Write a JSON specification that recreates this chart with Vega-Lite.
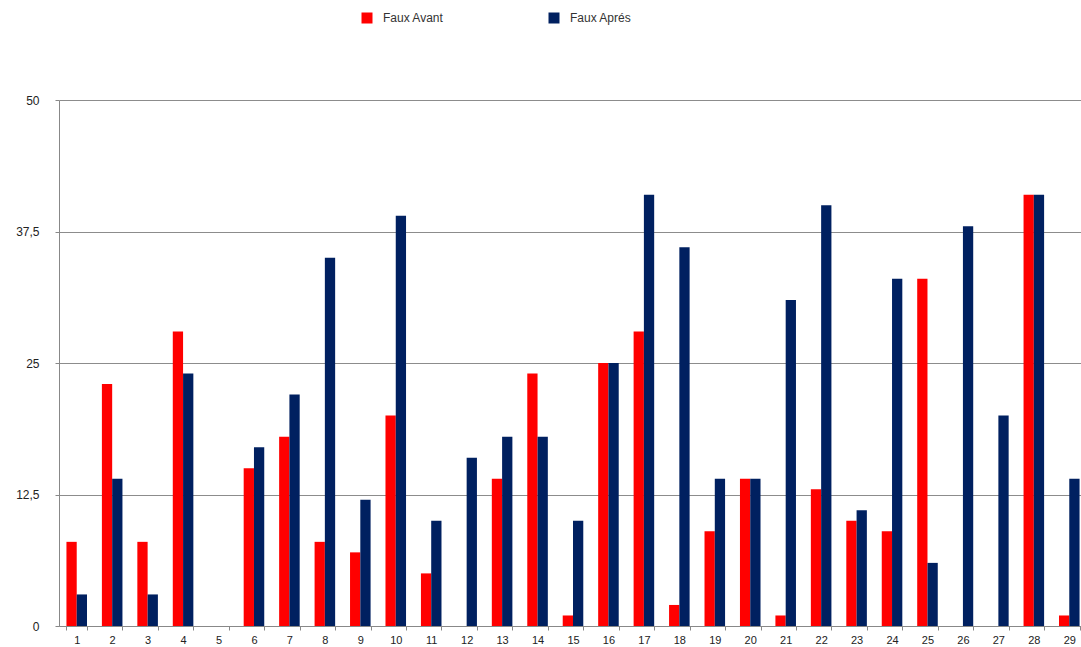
{
  "$schema": "https://vega.github.io/schema/vega-lite/v6.json",
  "width": 1028,
  "height": 526,
  "autosize": {"type": "none"},
  "padding": {"left": 59, "top": 100, "right": -6, "bottom": 21},
  "background": "white",
  "config": {"view": {"stroke": null}, "font": "Liberation Sans"},
  "data": {"values": [
    {"jour": 1, "serie": "Faux Avant", "valeur": 8}, {"jour": 1, "serie": "Faux Aprés", "valeur": 3},
    {"jour": 2, "serie": "Faux Avant", "valeur": 23}, {"jour": 2, "serie": "Faux Aprés", "valeur": 14},
    {"jour": 3, "serie": "Faux Avant", "valeur": 8}, {"jour": 3, "serie": "Faux Aprés", "valeur": 3},
    {"jour": 4, "serie": "Faux Avant", "valeur": 28}, {"jour": 4, "serie": "Faux Aprés", "valeur": 24},
    {"jour": 5, "serie": "Faux Avant", "valeur": 0}, {"jour": 5, "serie": "Faux Aprés", "valeur": 0},
    {"jour": 6, "serie": "Faux Avant", "valeur": 15}, {"jour": 6, "serie": "Faux Aprés", "valeur": 17},
    {"jour": 7, "serie": "Faux Avant", "valeur": 18}, {"jour": 7, "serie": "Faux Aprés", "valeur": 22},
    {"jour": 8, "serie": "Faux Avant", "valeur": 8}, {"jour": 8, "serie": "Faux Aprés", "valeur": 35},
    {"jour": 9, "serie": "Faux Avant", "valeur": 7}, {"jour": 9, "serie": "Faux Aprés", "valeur": 12},
    {"jour": 10, "serie": "Faux Avant", "valeur": 20}, {"jour": 10, "serie": "Faux Aprés", "valeur": 39},
    {"jour": 11, "serie": "Faux Avant", "valeur": 5}, {"jour": 11, "serie": "Faux Aprés", "valeur": 10},
    {"jour": 12, "serie": "Faux Avant", "valeur": 0}, {"jour": 12, "serie": "Faux Aprés", "valeur": 16},
    {"jour": 13, "serie": "Faux Avant", "valeur": 14}, {"jour": 13, "serie": "Faux Aprés", "valeur": 18},
    {"jour": 14, "serie": "Faux Avant", "valeur": 24}, {"jour": 14, "serie": "Faux Aprés", "valeur": 18},
    {"jour": 15, "serie": "Faux Avant", "valeur": 1}, {"jour": 15, "serie": "Faux Aprés", "valeur": 10},
    {"jour": 16, "serie": "Faux Avant", "valeur": 25}, {"jour": 16, "serie": "Faux Aprés", "valeur": 25},
    {"jour": 17, "serie": "Faux Avant", "valeur": 28}, {"jour": 17, "serie": "Faux Aprés", "valeur": 41},
    {"jour": 18, "serie": "Faux Avant", "valeur": 2}, {"jour": 18, "serie": "Faux Aprés", "valeur": 36},
    {"jour": 19, "serie": "Faux Avant", "valeur": 9}, {"jour": 19, "serie": "Faux Aprés", "valeur": 14},
    {"jour": 20, "serie": "Faux Avant", "valeur": 14}, {"jour": 20, "serie": "Faux Aprés", "valeur": 14},
    {"jour": 21, "serie": "Faux Avant", "valeur": 1}, {"jour": 21, "serie": "Faux Aprés", "valeur": 31},
    {"jour": 22, "serie": "Faux Avant", "valeur": 13}, {"jour": 22, "serie": "Faux Aprés", "valeur": 40},
    {"jour": 23, "serie": "Faux Avant", "valeur": 10}, {"jour": 23, "serie": "Faux Aprés", "valeur": 11},
    {"jour": 24, "serie": "Faux Avant", "valeur": 9}, {"jour": 24, "serie": "Faux Aprés", "valeur": 33},
    {"jour": 25, "serie": "Faux Avant", "valeur": 33}, {"jour": 25, "serie": "Faux Aprés", "valeur": 6},
    {"jour": 26, "serie": "Faux Avant", "valeur": 0}, {"jour": 26, "serie": "Faux Aprés", "valeur": 38},
    {"jour": 27, "serie": "Faux Avant", "valeur": 0}, {"jour": 27, "serie": "Faux Aprés", "valeur": 20},
    {"jour": 28, "serie": "Faux Avant", "valeur": 41}, {"jour": 28, "serie": "Faux Aprés", "valeur": 41},
    {"jour": 29, "serie": "Faux Avant", "valeur": 1}, {"jour": 29, "serie": "Faux Aprés", "valeur": 14}
  ]},
  "mark": {"type": "bar"},
  "encoding": {
    "x": {
      "field": "jour", "type": "ordinal",
      "scale": {"paddingInner": 0.42, "paddingOuter": 0.21},
      "axis": {"title": null, "labelAngle": 0, "tickBand": "extent", "domainColor": "#888888", "tickColor": "#888888", "tickSize": 4, "labelFontSize": 11, "labelColor": "#222222", "labelPadding": 4}
    },
    "xOffset": {"field": "serie", "sort": ["Faux Avant", "Faux Aprés"]},
    "y": {
      "field": "valeur", "type": "quantitative",
      "scale": {"domain": [0, 50]},
      "axis": {"title": null, "values": [0, 12.5, 25, 37.5, 50], "labelExpr": "replace(format(datum.value, ''), '.', ',')", "gridColor": "#8c8c8c", "gridOpacity": 1, "domainColor": "#888888", "tickColor": "#888888", "tickSize": 4, "labelPadding": 16, "labelFontSize": 12, "labelColor": "#222222"}
    },
    "color": {
      "field": "serie", "type": "nominal",
      "scale": {"domain": ["Faux Avant", "Faux Aprés"], "range": ["#ff0000", "#002060"]},
      "legend": {"title": null, "orient": "none", "legendX": 302, "legendY": -88, "direction": "horizontal", "columns": 2, "columnPadding": 104, "symbolType": "square", "symbolSize": 121, "symbolStrokeWidth": 0, "labelFontSize": 12, "labelColor": "#333333", "labelOffset": 10}
    }
  }
}
